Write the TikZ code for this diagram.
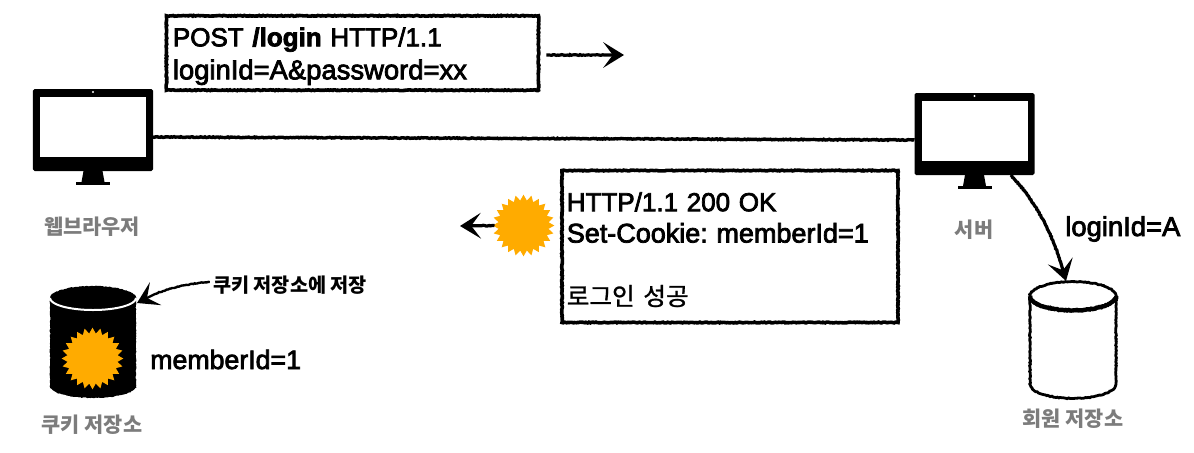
\documentclass[tikz,border=0pt]{standalone}
\usepackage{fontspec}
\setmainfont[FakeBold=2.8]{Liberation Sans}
\newfontfamily\korfont{Noto Sans CJK KR}
\newfontfamily\kormsg[FakeBold=1]{Noto Sans CJK KR}
\frenchspacing
\usetikzlibrary{arrows.meta,positioning,calc,shapes.geometric,decorations.pathmorphing}
\definecolor{cookieorange}{HTML}{FFAB00}
\definecolor{capgray}{HTML}{7C7C7C}
\tikzset{
  rough/.style  = {decorate, decoration={random steps,segment length=1pt,amplitude=0.3pt}},
  msgbox/.style = {draw, rough, rectangle, align=left, line width=0.9mm, inner sep=0pt},
  wire/.style   = {decorate, decoration={random steps,segment length=1pt,amplitude=0.3pt,post length=5mm},
                   line width=0.8mm, -{Stealth[length=5.2mm,width=6.4mm,inset=2.4mm]}},
  plain/.style  = {rough, line width=0.85mm},
  caption/.style= {font=\fontsize{14.8}{17}\selectfont\korfont\bfseries, text=capgray, inner sep=0pt},
  io/.style     = {font=\fontsize{19}{23}\selectfont, inner sep=0pt, anchor=base west},
  cookie/.style = {star, star points=24, star point ratio=1.22, fill=cookieorange, inner sep=0pt,
                   minimum size=15.4mm},
  monitor/.pic  = {
    \node[fill=black, rounded corners=0.4mm, minimum width=30mm, minimum height=20.5mm,
          inner sep=0pt, outer sep=0pt] (frame) at (0,0) {};
    \fill[white] (-53,-33) rectangle (53,27);
    \fill[white] (0,-38) circle (0.3mm);
    \fill[black] (-9.5,41) -- (9.5,41) -- (11.5,52) -- (-11.5,52) -- cycle;
    \fill[black] (-17,52) rectangle (17,55);
  },
  dbstore/.pic  = {
    \node[minimum width=21.5mm, minimum height=28.5mm, inner sep=0pt, outer sep=0pt] (body) at (0,0) {};
    \path[pic actions, rough] (-43,-44) arc[start angle=180, end angle=0, x radius=10.75mm, y radius=#1]
      -- (43,44) arc[start angle=0, end angle=-180, x radius=10.75mm, y radius=#1] -- cycle;
    \path[pic actions, rough] (-43,-44) arc[start angle=180, end angle=360, x radius=10.75mm, y radius=#1];
  }
}
\begin{document}
\begin{tikzpicture}[x=0.25mm,y=-0.25mm]
\useasboundingbox (0,0) rectangle (1194,452);

% --- client and server ---
\pic (browser) at (93,130) {monitor};
\pic (server) at (974.5,134) {monitor};
\node[caption] (browserlbl) at (92,227) {웹브라우저};
\node[caption] (serverlbl) at (974,230) {서버};
\draw[plain] ($(browserframe.east)+(0,7)$) -- ($(serverframe.west)+(0,6)$);

% --- request ---
\node[msgbox, font=\fontsize{18.5}{23.5}\selectfont, minimum width=93mm, minimum height=18.6mm,
      text width=89.8mm] (req) at (352.5,53)
     {\rule{0pt}{18pt}POST {\bfseries /login} HTTP/1.1\\{\fontsize{19.5}{23.5}\selectfont loginId=A\&password=xx}};
\coordinate (reqtip) at (624,55);
\draw[wire] ($(req.east)+(6,2)$) -- (reqtip);

% --- response ---
\node[msgbox, font=\fontsize{18.5}{22.3}\selectfont, minimum width=84mm, minimum height=38mm,
      text width=81.6mm] (res) at (730,246.5)
     {\rule{0pt}{18pt}HTTP/1.1 200 OK\\{\fontsize{19.2}{22.3}\selectfont Set-Cookie: memberId=1}\\[\baselineskip]{\kormsg\fontsize{17.5}{22.3}\selectfont 로그인 성공}};
\node[cookie] (rescookie) at (523.5,225.5) {};
\coordinate (restip) at (460,226);
\draw[wire] ($(rescookie.center)+(-29,0)$) -- (restip);

% --- cookie store ---
\pic[fill=black] (cookiedb) at (93,342) {dbstore=3mm};
\draw[white, line width=0.5mm] ($(cookiedbbody.north west)+(0,13)$)
  arc[start angle=180, end angle=360, x radius=10.75mm, y radius=3mm];
\node[cookie] (dbcookie) at (92.5,358.5) {};
\node[io] (cookieval) at (150,369) {memberId=1};
\node[caption] (cookielbl) at (92,425) {쿠키 저장소};
\node[font=\fontsize{14}{16}\selectfont\korfont\bfseries, inner sep=0pt] (savelbl) at (290,285) {쿠키 저장소에 저장};
\draw[wire, line width=0.6mm] ($(savelbl.west)+(-3,-3)$) .. controls (180,284) and (155,292) .. (137,303);

% --- member store ---
\pic[draw, fill=white, line width=0.7mm] (memberdb) at (1073,340) {dbstore=3.6mm};
\draw[rough, line width=1.1mm] ($(memberdbbody.north west)+(0,13)$)
  arc[start angle=180, end angle=360, x radius=10.75mm, y radius=3.6mm];
\node[caption] (memberlbl) at (1073,419) {회원 저장소};
\node[io, font=\fontsize{19.5}{23}\selectfont] (loginval) at (1065,236) {loginId=A};
\draw[wire] ($(serverframe.south east)+(-24,0)$) .. controls (1040,205) and (1057,245) .. ($(memberdbbody.north)+(-7,-2)$);

\end{tikzpicture}
\end{document}
